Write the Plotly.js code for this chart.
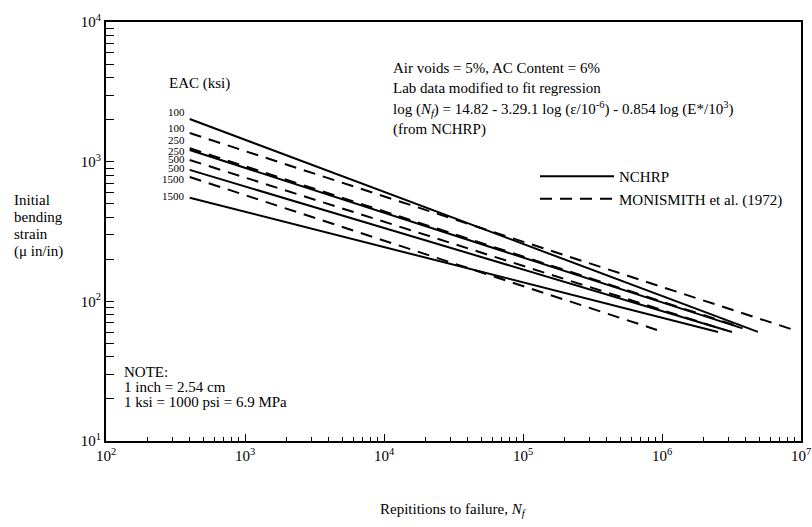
<!DOCTYPE html>
<html>
<head>
<meta charset="utf-8">
<script src="https://cdn.plot.ly/plotly-3.0.1.min.js"></script>
<style>html,body{margin:0;padding:0;background:#fff;}#chart{width:812px;height:527px;}</style>
</head>
<body>
<div id="chart"></div>
<script>
// ---- data ----
var seriesNames = ['NCHRP 100', 'MONISMITH 100', 'MONISMITH 250', 'NCHRP 250', 'MONISMITH 500', 'NCHRP 500', 'MONISMITH 1500', 'NCHRP 1500'];
var eacLabels   = ['100', '100', '250', '250', '500', '500', '1500', '1500'];
var seriesType  = ['NCHRP', 'MONISMITH', 'MONISMITH', 'NCHRP', 'MONISMITH', 'NCHRP', 'MONISMITH', 'NCHRP'];
var startN      = [400, 400, 400, 400, 400, 400, 400, 400];
var startStrain = [2022, 1604, 1247, 1213, 1028, 873, 777, 552];
var endN        = [4.9e6, 9.35e6, 3.64e6, 3.8e6, 2.8e6, 3.19e6, 9.2e5, 2.53e6];
var endStrain   = [60.4, 61.4, 65.6, 64, 62.6, 60.4, 62.4, 60.4];
var xTickVals   = [1e2, 1e3, 1e4, 1e5, 1e6, 1e7];
var xTickText   = ['10<sup>2</sup>', '10<sup>3</sup>', '10<sup>4</sup>', '10<sup>5</sup>', '10<sup>6</sup>', '10<sup>7</sup>'];
var yTickVals   = [1e1, 1e2, 1e3, 1e4];
var yTickText   = ['10<sup>1</sup>', '10<sup>2</sup>', '10<sup>3</sup>', '10<sup>4</sup>'];
var legendNames = {NCHRP: 'NCHRP', MONISMITH: 'MONISMITH et al. (1972)'};

// ---- styling / layout ----
var FONT = 'Liberation Serif, Times New Roman, serif';
var labelShift = [7, 5, 8, -1, 1, 2, -2, 2];

function minorTicks(lo, hi) {
  var v = [];
  for (var e = lo; e < hi; e++) for (var m = 2; m <= 9; m++) v.push(m * Math.pow(10, e));
  return v;
}

var traces = [];
var shown = {};
for (var i = 0; i < seriesNames.length; i++) {
  var t = seriesType[i];
  traces.push({
    type: 'scatter', mode: 'lines',
    x: [startN[i], endN[i]], y: [startStrain[i], endStrain[i]],
    name: legendNames[t], legendgroup: t,
    showlegend: !shown[t],
    line: {color: '#000', width: 2, dash: t === 'NCHRP' ? 'solid' : '12px,8px'},
    hoverinfo: 'skip'
  });
  shown[t] = true;
}

var W = 812, H = 527, L = 106, R = 11, T = 22, B = 86;
var pw = W - L - R, ph = H - T - B;
function px(xp) { return (xp - L) / pw; }
function py(yp) { return (H - B - yp) / ph; }

var annotations = [];
function txt(text, x, y, xanchor, size) {
  annotations.push({text: text, xref: 'paper', yref: 'paper', x: px(x), y: py(y),
    xanchor: xanchor || 'left', yanchor: 'middle', showarrow: false,
    font: {family: FONT, size: size || 15, color: '#000000'}});
}
// EAC labels at line starts
for (var j = 0; j < eacLabels.length; j++) {
  annotations.push({text: eacLabels[j], x: Math.log10(startN[j]), y: Math.log10(startStrain[j]),
    xref: 'x', yref: 'y', xanchor: 'right', yanchor: 'middle', xshift: -3, yshift: labelShift[j],
    showarrow: false, font: {family: FONT, size: 11, color: '#000000'}});
}
txt('EAC (ksi)', 167, 83, 'left', 15);
txt('Air voids = 5%, AC Content = 6%', 391, 68);
txt('Lab data modified to fit regression', 391, 88);
txt('log (<i>N<sub>f</sub></i>) = 14.82 - 3.29.1 log (\u03b5/10<sup>-6</sup>) - 0.854 log (E*/10<sup>3</sup>)', 391, 109);
txt('(from NCHRP)', 391, 129);
txt('NOTE:', 122, 372, 'left', 15);
txt('1 inch = 2.54 cm', 122, 387, 'left', 15);
txt('1 ksi = 1000 psi = 6.9 MPa', 122, 402, 'left', 15);
txt('Initial', 12, 200, 'left', 15);
txt('bending', 12, 217, 'left', 15);
txt('strain', 12, 234, 'left', 15);
txt('(\u03bc in/in)', 12, 251, 'left', 15);
txt('Repititions to failure, <i>N<sub>f</sub></i>', (L + W - R) / 2, 510, 'center', 15);

var layout = {
  width: W, height: H,
  margin: {l: L, r: R, t: T, b: B, pad: 0},
  paper_bgcolor: '#fff', plot_bgcolor: '#fff',
  font: {family: FONT, size: 15, color: '#000'},
  showlegend: true,
  legend: {x: px(535), y: py(160), xanchor: 'left', yanchor: 'top', bgcolor: 'rgba(0,0,0,0)',
    font: {family: FONT, size: 15, color: '#000'}, itemwidth: 74, tracegroupgap: 0, traceorder: 'normal'},
  xaxis: {type: 'log', range: [2, 7], showgrid: false, zeroline: false,
    showline: true, linecolor: '#000', linewidth: 2, mirror: true,
    tickmode: 'array', tickvals: xTickVals, ticktext: xTickText,
    ticks: 'inside', ticklen: 7, tickwidth: 1, tickcolor: '#000',
    tickfont: {family: FONT, size: 15, color: '#000'},
    minor: {tickvals: minorTicks(2, 7), ticks: 'inside', ticklen: 4, tickwidth: 1, tickcolor: '#000', showgrid: false}},
  yaxis: {type: 'log', range: [1, 4], showgrid: false, zeroline: false,
    showline: true, linecolor: '#000', linewidth: 2, mirror: true,
    tickmode: 'array', tickvals: yTickVals, ticktext: yTickText,
    ticks: 'inside', ticklen: 8, tickwidth: 1, tickcolor: '#000',
    tickfont: {family: FONT, size: 15, color: '#000'},
    minor: {tickvals: minorTicks(1, 4), ticks: 'inside', ticklen: 8, tickwidth: 1, tickcolor: '#000', showgrid: false}},
  annotations: annotations
};

Plotly.newPlot('chart', traces, layout, {displayModeBar: false, staticPlot: true});
</script>
</body>
</html>
